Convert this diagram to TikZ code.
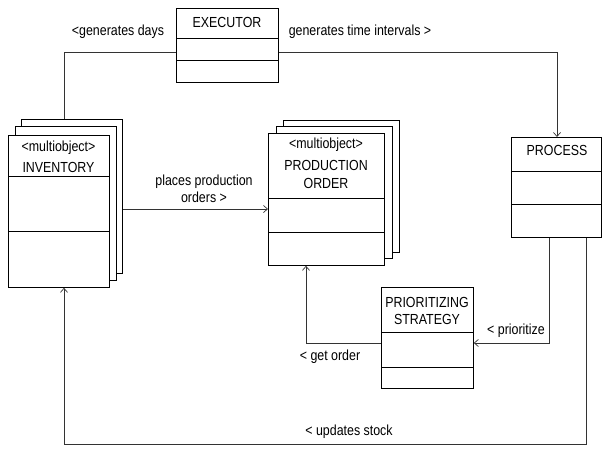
\documentclass[tikz,border=0pt]{standalone}
\usepackage{fontspec}
\setmainfont[FakeStretch=0.85]{Liberation Sans}
\usetikzlibrary{arrows.meta,calc}
\begin{document}
\begin{tikzpicture}[x=1pt,y=-1pt,
  box/.style={draw=black,fill=white,line width=0.8pt,rectangle,inner sep=0pt,anchor=north west},
  divider/.style={draw=black,line width=0.8pt},
  conn/.style={draw=black!80,line width=0.8pt},
  arr/.style={conn,-{Straight Barb[length=4pt,width=7pt,line width=0.7pt]}},
  txt/.style={font=\fontsize{14.6pt}{17pt}\selectfont,inner sep=0pt,align=center}]
\useasboundingbox (0,0) rectangle (602,448);
% EXECUTOR
\node[box,minimum width=102pt,minimum height=74pt] (exec) at (176,8) {};
\draw[divider] (exec.west |- 0,38) -- (exec.east |- 0,38);
\draw[divider] (exec.west |- 0,60) -- (exec.east |- 0,60);
\node[txt] (exect) at (227,22) {EXECUTOR};
% INVENTORY stack
\node[box,minimum width=101pt,minimum height=154pt] (invback) at (21,119) {};
\node[box,minimum width=101pt,minimum height=154pt] (invmid) at (15,126) {};
\node[box,minimum width=101pt,minimum height=152pt] (inv) at (8,135) {};
\draw[divider] (inv.west |- 0,176) -- (inv.east |- 0,176);
\draw[divider] (inv.west |- 0,231) -- (inv.east |- 0,231);
\node[txt] (invt1) at (58.5,148) {<multiobject>};
\node[txt] (invt2) at (58.5,167) {INVENTORY};
% PRODUCTION ORDER stack
\node[box,minimum width=116pt,minimum height=132pt] (poback) at (283,120) {};
\node[box,minimum width=116pt,minimum height=132pt] (pomid) at (276,126) {};
\node[box,minimum width=116pt,minimum height=132pt] (po) at (268,133) {};
\draw[divider] (po.west |- 0,198) -- (po.east |- 0,198);
\draw[divider] (po.west |- 0,232) -- (po.east |- 0,232);
\node[txt] (pot1) at (326,145) {<multiobject>};
\node[txt] (pot2) at (326,165) {PRODUCTION};
\node[txt] (pot3) at (326,183) {ORDER};
% PROCESS
\node[box,minimum width=90pt,minimum height=100pt] (proc) at (511,137) {};
\draw[divider] (proc.west |- 0,171) -- (proc.east |- 0,171);
\draw[divider] (proc.west |- 0,204) -- (proc.east |- 0,204);
\node[txt] (proct) at (557,150) {PROCESS};
% PRIORITIZING STRATEGY
\node[box,minimum width=92pt,minimum height=101pt] (prio) at (381,287) {};
\draw[divider] (prio.west |- 0,332) -- (prio.east |- 0,332);
\draw[divider] (prio.west |- 0,367) -- (prio.east |- 0,367);
\node[txt] (priot1) at (427,302) {PRIORITIZING};
\node[txt] (priot2) at (427,319) {STRATEGY};
% connectors
\coordinate (c1) at (64,52);
\coordinate (c2) at (557,52);
\coordinate (c3) at (549,343);
\coordinate (c4) at (306,343);
\coordinate (c5) at (586,444);
\coordinate (c6) at (64,444);
\draw[conn] (exec.west |- c1) -- (c1) -- (c1 |- invback.north);
\draw[arr] (exec.east |- c2) -- (c2) -- (c2 |- proc.north);
\draw[arr] (invback.east |- 0,209) -- (po.west |- 0,209);
\draw[arr] (c3 |- proc.south) -- (c3) -- (prio.east |- c3);
\draw[arr] (prio.west |- c4) -- (c4) -- (c4 |- po.south);
\draw[arr] (c5 |- proc.south) -- (c5) -- (c6) -- (c6 |- inv.south);
% labels
\node[txt] (l1) at (118,32) {<generates days};
\node[txt] (l2) at (360,32) {generates time intervals >};
\node[txt] (l3) at (204,189) {places production\\[0pt]orders >};
\node[txt] (l4) at (330,357) {< get order};
\node[txt] (l5) at (516,331) {< prioritize};
\node[txt] (l6) at (349,432) {< updates stock};
\end{tikzpicture}
\end{document}
